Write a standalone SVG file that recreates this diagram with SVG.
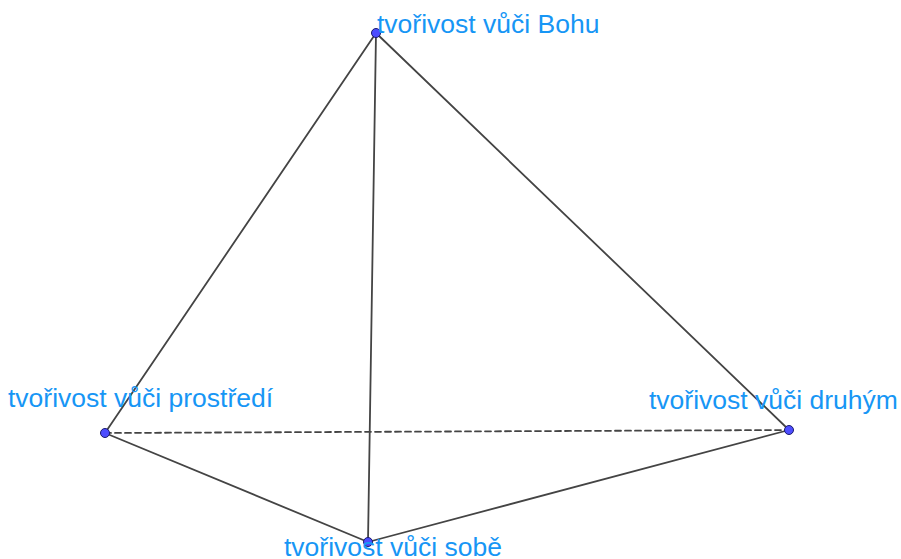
<svg xmlns="http://www.w3.org/2000/svg" width="901" height="559" viewBox="0 0 901 559">
<style>
.edge{stroke:#444;stroke-width:1.8;fill:none;stroke-linecap:round}
.dash{stroke-dasharray:6,4}
.pt{fill:#4d4dff;stroke:#1a1a6e;stroke-width:1}
.lbl{font-family:"Liberation Sans",Arial,sans-serif;font-size:26.5px;fill:#1796f5}
</style>
<rect width="901" height="559" fill="#fff"/>
<g id="connectors">
<line class="edge dash" x1="105" y1="433" x2="789" y2="430"/>
<line class="edge" x1="376" y1="33" x2="105" y2="433"/>
<line class="edge" x1="376" y1="33" x2="789" y2="430"/>
<line class="edge" x1="376" y1="33" x2="368" y2="542"/>
<line class="edge" x1="105" y1="433" x2="368" y2="542"/>
<line class="edge" x1="789" y1="430" x2="368" y2="542"/>
</g>
<g id="node-bohu"><circle class="pt" cx="376" cy="33" r="4.5"/><text class="lbl" x="377" y="33">tvořivost vůči Bohu</text></g>
<g id="node-prostredi"><circle class="pt" cx="105" cy="433" r="4.5"/><text class="lbl" x="8" y="407">tvořivost vůči prostředí</text></g>
<g id="node-druhym"><circle class="pt" cx="789" cy="430" r="4.5"/><text class="lbl" x="649" y="409">tvořivost vůči druhým</text></g>
<g id="node-sobe"><circle class="pt" cx="368" cy="542" r="4.5"/><text class="lbl" x="284" y="556">tvořivost vůči sobě</text></g>
</svg>
